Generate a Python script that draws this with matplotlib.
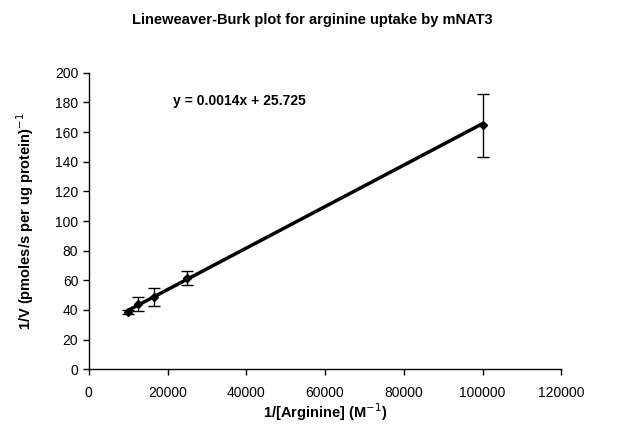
import matplotlib
matplotlib.use("Agg")
import matplotlib.pyplot as plt
import numpy as np

plt.rcParams['font.family'] = ['Liberation Sans', 'DejaVu Sans']

# Data
inv_arginine = [10000, 12500, 16667, 25000, 100000]
inv_v = [38.5, 44.0, 48.5, 61.5, 164.5]
inv_v_err = [1.5, 5.0, 6.0, 4.5, 21.0]
slope = 0.0014
intercept = 25.725
x_ticks = [0, 20000, 40000, 60000, 80000, 100000, 120000]
y_ticks = [0, 20, 40, 60, 80, 100, 120, 140, 160, 180, 200]

fig = plt.figure(figsize=(6.25, 4.47), dpi=100)
ax = fig.add_axes([0.142, 0.174, 0.756, 0.663])

xs = np.array([min(inv_arginine), max(inv_arginine)])
ax.plot(xs, slope * xs + intercept, color='black', lw=2.5, zorder=2)
ax.errorbar(inv_arginine, inv_v, yerr=inv_v_err, fmt='D', color='black',
            ms=4, ecolor='black', elinewidth=1, capsize=4, capthick=1, zorder=3)

ax.set_xlim(0, 120000)
ax.set_ylim(0, 200)
ax.set_xticks(x_ticks)
ax.set_yticks(y_ticks)
ax.tick_params(direction='out', length=4, width=1, labelsize=10, colors='black')
ax.tick_params(axis='x', pad=8)
for s in ['top', 'right']:
    ax.spines[s].set_visible(False)
for s in ['left', 'bottom']:
    ax.spines[s].set_linewidth(1)

ax.set_xlabel('1/[Arginine] (M$^{-1}$)', fontsize=10.5, fontweight='bold', labelpad=1)
ax.set_ylabel('1/V (pmoles/s per ug protein)$^{-1}$', fontsize=10.5, fontweight='bold', labelpad=14)
fig.text(0.5, 0.955, 'Lineweaver-Burk plot for arginine uptake by mNAT3',
         ha='center', va='center', fontsize=10.5, fontweight='bold')
ax.text(21500, 181, 'y = 0.0014x + 25.725', fontsize=10, fontweight='bold', va='center')

fig.savefig('out.png', dpi=100)
